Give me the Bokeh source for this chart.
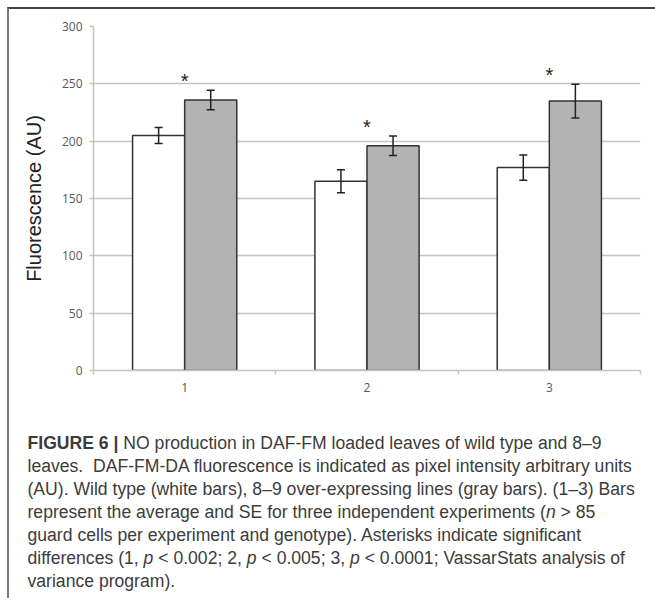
from bokeh.plotting import figure
from bokeh.models import ColumnDataSource, Whisker, FixedTicker, Range1d, Div, TeeHead
from bokeh.layouts import column
from bokeh.embed import file_html
from bokeh.resources import INLINE
from bokeh.core.properties import value

# ---- data ----
experiments = ["1", "2", "3"]
wild_type = [205, 165, 177]
wild_type_se = [7, 10, 11]
overexp = [236, 196, 235]
overexp_se = [8.5, 8.5, 14.7]
y_ticks = [0, 50, 100, 150, 200, 250, 300]

bar_w = 1 / 3.5  # two bars per category, 150% gap
centers = [i + 0.5 for i in range(len(experiments))]
bounds = [float(i) for i in range(len(experiments) + 1)]

src_wt = ColumnDataSource(dict(
    x=[c - bar_w / 2 for c in centers], top=wild_type,
    upper=[v + s for v, s in zip(wild_type, wild_type_se)],
    lower=[v - s for v, s in zip(wild_type, wild_type_se)]))
src_ov = ColumnDataSource(dict(
    x=[c + bar_w / 2 for c in centers], top=overexp,
    upper=[v + s for v, s in zip(overexp, overexp_se)],
    lower=[v - s for v, s in zip(overexp, overexp_se)]))
src_star = ColumnDataSource(dict(
    x=centers, y=[v + s + 8 for v, s in zip(overexp, overexp_se)],
    t=["*"] * len(experiments)))

GRID = "#c4c4c4"
p = figure(width=646, height=418, x_range=Range1d(0, len(experiments)),
           y_range=Range1d(0, 300), output_backend="svg", toolbar_location=None,
           min_border_left=84, min_border_right=15, min_border_top=17,
           min_border_bottom=57)
p.outline_line_color = None
p.xgrid.grid_line_color = None
p.ygrid.ticker = FixedTicker(ticks=y_ticks)
p.ygrid.grid_line_color = GRID
p.ygrid.grid_line_width = 1.5

# y axis
p.yaxis.ticker = FixedTicker(ticks=y_ticks)
p.yaxis.axis_line_color = GRID
p.yaxis.axis_line_width = 1.5
p.yaxis.major_tick_line_color = GRID
p.yaxis.major_tick_line_width = 1.5
p.yaxis.major_tick_out = 4
p.yaxis.major_tick_in = 0
p.yaxis.minor_tick_line_color = None
p.yaxis.major_label_text_font = "Open Sans"
p.yaxis.major_label_text_font_size = "12px"
p.yaxis.major_label_text_color = "#595959"
p.yaxis.major_label_standoff = 7
p.yaxis.axis_label = "Fluorescence (AU)"
p.yaxis.axis_label_text_font = "Liberation Sans"
p.yaxis.axis_label_text_font_size = "20px"
p.yaxis.axis_label_text_font_style = "normal"
p.yaxis.axis_label_text_color = "#222222"
p.yaxis.axis_label_standoff = 14

# x axis
p.xaxis.ticker = FixedTicker(ticks=centers, minor_ticks=bounds)
p.xaxis.major_label_overrides = {c: lab for c, lab in zip(centers, experiments)}
p.xaxis.axis_line_color = GRID
p.xaxis.axis_line_width = 1.5
p.xaxis.major_tick_out = 0
p.xaxis.major_tick_in = 0
p.xaxis.major_tick_line_color = None
p.xaxis.minor_tick_line_color = GRID
p.xaxis.minor_tick_line_width = 1.5
p.xaxis.minor_tick_out = 4
p.xaxis.minor_tick_in = 0
p.xaxis.major_label_text_font = "Open Sans"
p.xaxis.major_label_text_font_size = "12px"
p.xaxis.major_label_text_color = "#595959"
p.xaxis.major_label_standoff = 8

# bars
p.vbar(x="x", top="top", bottom=0, width=bar_w, source=src_wt,
       fill_color="white", line_color="#333333", line_width=1.5)
p.vbar(x="x", top="top", bottom=0, width=bar_w, source=src_ov,
       fill_color="#b3b3b3", line_color="#333333", line_width=1.5)

for src in (src_wt, src_ov):
    w = Whisker(source=src, base="x", upper="upper", lower="lower",
                line_color="#222222", line_width=1.5, level="annotation",
                upper_head=TeeHead(size=8, line_color="#222222", line_width=1.5),
                lower_head=TeeHead(size=8, line_color="#222222", line_width=1.5))
    p.add_layout(w)

p.text(x="x", y="y", text="t", source=src_star, text_font=value("Liberation Sans"),
       text_font_size="20px", text_align="center", text_baseline="middle",
       text_color="#222222")

caption = Div(
    text=('<b>FIGURE 6 |</b> NO production in DAF-FM loaded leaves of wild type and 8–9<br>'
          'leaves.&nbsp; DAF-FM-DA fluorescence is indicated as pixel intensity arbitrary units<br>'
          '(AU). Wild type (white bars), 8–9 over-expressing lines (gray bars). (1–3) Bars<br>'
          'represent the average and SE for three independent experiments (<i>n</i> &gt; 85<br>'
          'guard cells per experiment and genotype). Asterisks indicate significant<br>'
          'differences (1, <i>p</i> &lt; 0.002; 2, <i>p</i> &lt; 0.005; 3, <i>p</i> &lt; 0.0001; '
          'VassarStats analysis of<br>variance program).'),
    width=646, height=161,
    styles={"font-family": "Liberation Sans", "font-size": "17.6px",
            "line-height": "23px", "color": "#3c3c3c", "white-space": "nowrap",
            "padding-left": "13.5px", "box-sizing": "border-box"})

layout = column(p, caption, spacing=0,
                styles={"margin-left": "7px", "margin-top": "7px",
                        "border-left": "2px solid #7a7a7a",
                        "border-top": "2px solid #444444"})

open("out.html", "w").write(file_html(layout, INLINE))
